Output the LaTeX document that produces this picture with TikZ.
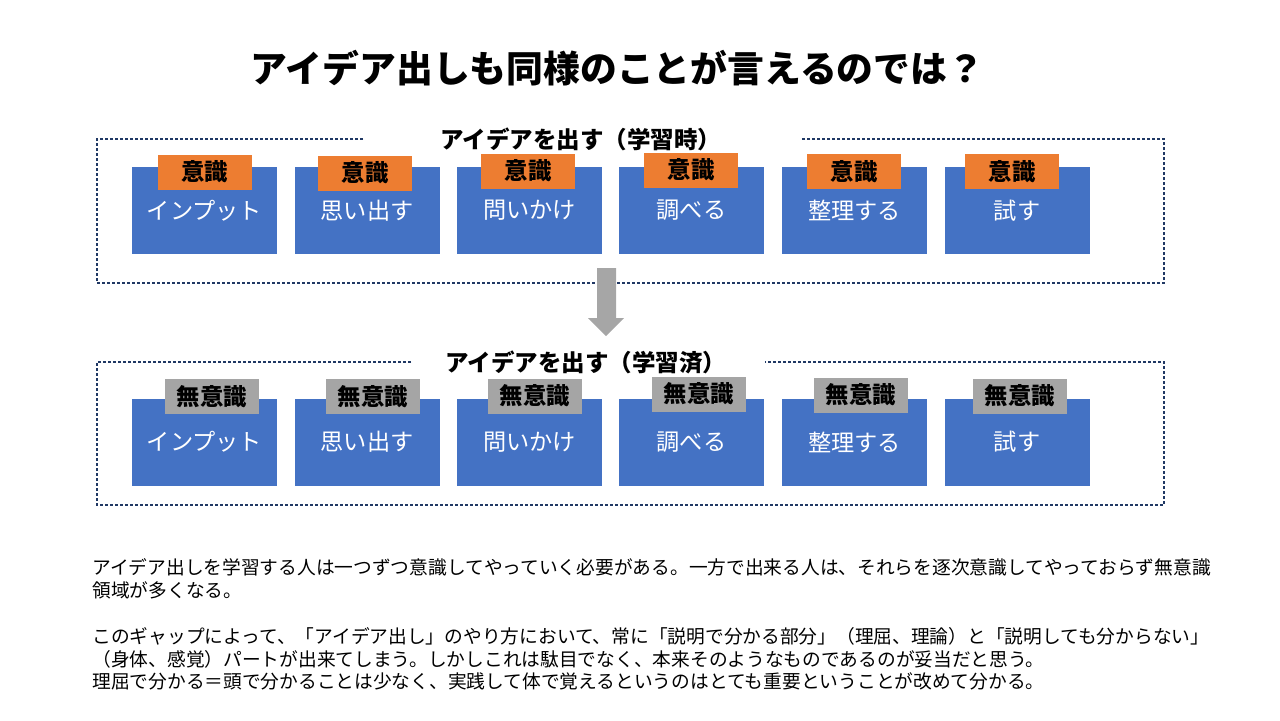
\documentclass[tikz,border=0pt]{standalone}
\usepackage{fontspec}
\setmainfont{Noto Sans CJK JP}
\definecolor{boxblue}{HTML}{4472C4}
\definecolor{tagorange}{HTML}{ED7D31}
\definecolor{taggray}{HTML}{A5A5A5}
\definecolor{framenavy}{HTML}{203864}
\definecolor{arrowgray}{HTML}{A6A6A6}
\tikzset{
  bluebox/.style={fill=boxblue, text=white, minimum width=72.5pt, minimum height=43.5pt,
    inner sep=0pt, font=\fontsize{11.6pt}{13pt}\selectfont},
  tagbox/.style={minimum width=47pt, minimum height=17.5pt, inner sep=0pt,
    font=\fontsize{11.7pt}{13pt}\selectfont\bfseries},
  orangetag/.style={tagbox, fill=tagorange},
  graytag/.style={tagbox, fill=taggray},
  frametitle/.style={inner sep=0pt, font=\fontsize{11.75pt}{13pt}\selectfont\bfseries},
  dotframe/.style={draw=framenavy, line width=1.45pt, dash pattern=on 1.5pt off 1pt},
  bodytext/.style={anchor=west, inner sep=0pt, font=\fontsize{9.36pt}{11pt}\selectfont}
}

\begin{document}
\begin{tikzpicture}[x=0.5pt, y=-0.5pt]
  \useasboundingbox (0,0) rectangle (1280,720);

  \node[inner sep=0pt, font=\fontsize{18.4pt}{20pt}\selectfont\bfseries] (title) at(617.5,68){アイデア出しも同様のことが言えるのでは？};

  % frames
  \draw[dotframe] (363,139) -- (97,139) -- (97,283) -- (1164,283) -- (1164,139) -- (802,139);
  \draw[dotframe] (411,362) -- (97,362) -- (97,505) -- (1164,505) -- (1164,362) -- (765,362);
  \node[frametitle] (ttop) at(581,139){アイデアを出す（学習時）};
  \node[frametitle] (tbot) at(586,362){アイデアを出す（学習済）};

  % top row
  \node[bluebox] (t1) at(204.5,210.5){インプット};
  \node[bluebox] (t2) at(367,210.5){思い出す};
  \node[bluebox] (t3) at(529.5,210.5){問いかけ};
  \node[bluebox] (t4) at(691.5,210.5){調べる};
  \node[bluebox] (t5) at(854.5,210.5){整理する};
  \node[bluebox] (t6) at(1017,210.5){試す};
  \node[orangetag] (tl1) at(204.5,172){意識};
  \node[orangetag] (tl2) at(365,173){意識};
  \node[orangetag] (tl3) at(528,171){意識};
  \node[orangetag] (tl4) at(691,170){意識};
  \node[orangetag] (tl5) at(854,171.5){意識};
  \node[orangetag] (tl6) at(1012,171.5){意識};

  % bottom row
  \node[bluebox] (b1) at(204.5,442){インプット};
  \node[bluebox] (b2) at(367,442){思い出す};
  \node[bluebox] (b3) at(529.5,442){問いかけ};
  \node[bluebox] (b4) at(691.5,442){調べる};
  \node[bluebox] (b5) at(854.5,442){整理する};
  \node[bluebox] (b6) at(1017,442){試す};
  \node[graytag] (bl1) at(212,396.5){無意識};
  \node[graytag] (bl2) at(373,396.5){無意識};
  \node[graytag] (bl3) at(535,396){無意識};
  \node[graytag] (bl4) at(699,394){無意識};
  \node[graytag] (bl5) at(861,395){無意識};
  \node[graytag] (bl6) at(1020,396){無意識};

  % arrow
  \fill[arrowgray] (597,268) -- (616,268) -- (616,318) -- (624,318) -- (606,336)
    -- (588,318) -- (597,318) -- cycle;

  % notes
  \node[bodytext] (n1) at(92,567){アイデア出しを学習する人は一つずつ意識してやっていく必要がある。一方で出来る人は、それらを逐次意識してやっておらず無意識};
  \node[bodytext] (n2) at(92,590){領域が多くなる。};
  \node[bodytext] (n3) at(92,636){このギャップによって、「アイデア出し」のやり方において、常に「説明で分かる部分」（理屈、理論）と「説明しても分からない」};
  \node[bodytext] (n4) at(92,659){（身体、感覚）パートが出来てしまう。しかしこれは駄目でなく、本来そのようなものであるのが妥当だと思う。};
  \node[bodytext] (n5) at(92,681){理屈で分かる＝頭で分かることは少なく、実践して体で覚えるというのはとても重要ということが改めて分かる。};
\end{tikzpicture}
\end{document}
